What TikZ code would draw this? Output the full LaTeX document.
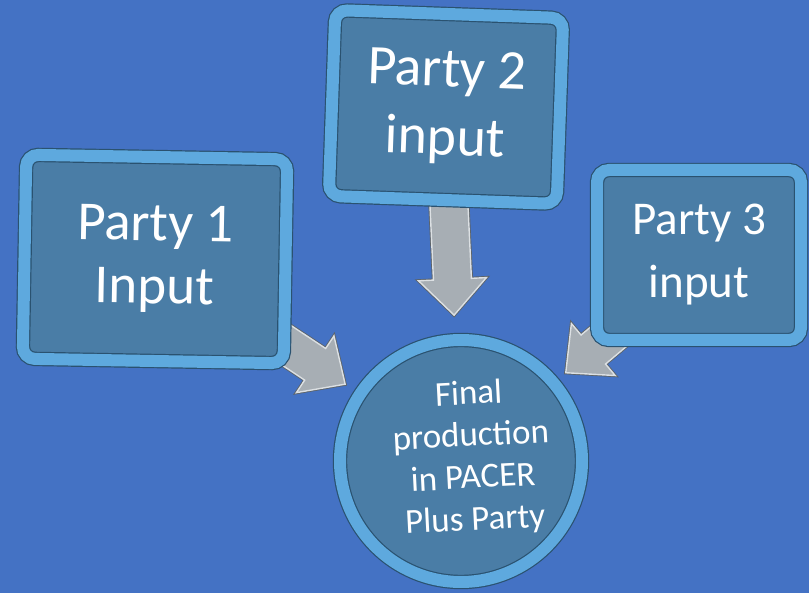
\documentclass[tikz,border=0pt]{standalone}
\usepackage{fontspec}
\setmainfont{Carlito}
\usetikzlibrary{calc}
\definecolor{bgblue}{HTML}{4472C4}
\definecolor{face}{HTML}{4A7DA6}
\definecolor{rim}{HTML}{5EA9DE}
\definecolor{edge}{HTML}{2A5270}
\definecolor{arrfill}{HTML}{A7AEB4}
\definecolor{arrlight}{HTML}{DCE0E3}
\definecolor{arrdark}{HTML}{5C646B}
\pgfdeclarelayer{bglayer}
\pgfdeclarelayer{arrlayer}
\pgfsetlayers{bglayer,arrlayer,main}
\tikzset{
  bevelbox/.style={rectangle, rounded corners=12pt, fill=face, draw=edge,
    line width=1.2pt, double=rim, double distance=12pt, text=white,
    align=center, inner sep=0pt},
  bevelcircle/.style={circle, fill=face, draw=edge, line width=1.2pt,
    double=rim, double distance=12pt, inner sep=0pt, minimum size=242pt},
  blockarrow/.style={fill=arrfill, draw=arrlight, line width=1.4pt, line join=miter,
    preaction={draw=arrdark, line width=3.2pt, line join=miter}},
}
\newcommand\blockarr[2]{%
  \coordinate (hb) at ($(#2)!36pt!(#1)$);
  \path[blockarrow] ($(#1)!19pt!90:(#2)$) -- ($(hb)!19pt!90:(#2)$)
    -- ($(hb)!34pt!90:(#2)$) -- (#2) -- ($(hb)!34pt!-90:(#2)$)
    -- ($(hb)!19pt!-90:(#2)$) -- ($(#1)!19pt!-90:(#2)$) -- cycle;
}
\begin{document}
\begin{tikzpicture}[x=1pt,y=-1pt]
\begin{pgfonlayer}{bglayer}
  \fill[bgblue] (0,0) rectangle (809,593);
\end{pgfonlayer}
\useasboundingbox (0,0) rectangle (809,593);

\node[bevelbox, minimum width=261pt, minimum height=204pt, rotate=-1,
  font=\fontsize{55}{63}\selectfont] (box1) at (155,259) {Party 1\\Input};
\node[bevelbox, minimum width=228pt, minimum height=186pt, rotate=-2,
  font=\fontsize{56}{68}\selectfont] (box2) at (446,107) {Party 2\\input};
\node[bevelbox, minimum width=204pt, minimum height=170pt,
  font=\fontsize{47}{63}\selectfont] (box3) at (699,255) {Party 3\\input};
\node[bevelcircle] (final) at (461,461) {};
\node[text=white, align=center, rotate=3, font=\fontsize{35}{42}\selectfont]
  (finaltext) at (472,458) {Final\\production\\in PACER\\Plus Party};

\coordinate (t1) at ($(box1.south east)+(-15,-30)$);
\coordinate (t2) at ($(box2.south)+(6,0)$);
\coordinate (t3) at ($(box3.south west)+(36,-24)$);
\coordinate (p1) at ($(final)!139pt!(t1)$);
\coordinate (p2) at ($(final)!146pt!(t2)$);
\coordinate (p3) at ($(final)!137pt!(t3)$);

\begin{pgfonlayer}{arrlayer}
  \blockarr{t1}{p1}
  \blockarr{t2}{p2}
  \blockarr{t3}{p3}
\end{pgfonlayer}
\end{tikzpicture}
\end{document}
